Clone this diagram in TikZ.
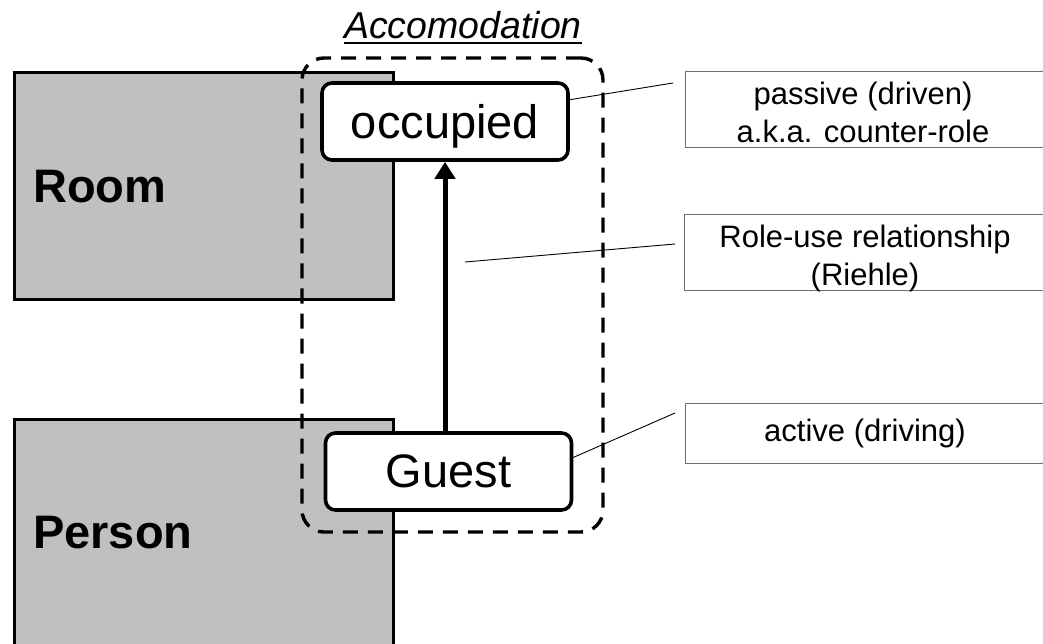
\documentclass[tikz,border=0pt]{standalone}
\usepackage{fontspec}
\setmainfont{Liberation Sans}
\usetikzlibrary{arrows.meta}
\definecolor{classgray}{HTML}{C0C0C0}
\definecolor{notegray}{HTML}{6E6E6E}
% underline with a heavier rule than \underline gives
\newcommand\heavyul[1]{\setbox0\hbox{#1}\rlap{\rule[-6pt]{\wd0}{2.2pt}}\box0}

\begin{document}
\begin{tikzpicture}[x=1pt,y=-1pt,
  classbox/.style={draw=black, line width=3pt, fill=classgray, inner sep=0pt},
  classlabel/.style={font=\fontsize{47}{56}\selectfont\bfseries, anchor=base west, inner sep=0pt},
  rolebox/.style={draw=black, line width=3.6pt, fill=white, rounded corners=10pt,
    minimum width=246pt, minimum height=77pt, inner sep=0pt,
    font=\fontsize{47}{56}\selectfont, text depth=0pt},
  contextbox/.style={draw=black, line width=3.4pt, dash pattern=on 15pt off 10pt,
    rounded corners=22pt, inner sep=0pt},
  notebox/.style={draw=notegray, line width=1.1pt, fill=white, inner sep=0pt,
    anchor=north west, minimum width=400pt},
  notetext/.style={font=\fontsize{31}{38}\selectfont, align=center, inner sep=0pt},
  leader/.style={draw=black, line width=0.9pt},
  uses/.style={draw=black, line width=5pt, -{Triangle[length=17pt,width=20pt]}}
]
\useasboundingbox (0,0) rectangle (1043,643);

% classes
\node[classbox, minimum width=379pt, minimum height=227pt, anchor=north west] (room) at (13,71) {};
\node[classbox, minimum width=379pt, minimum height=260pt, anchor=north west] (person) at (13,418) {};
\node[classlabel] (roomlabel) at (33,202) {Room};
\node[classlabel] (personlabel) at (33,548) {Person};

% relationship context
\node[contextbox, minimum width=301pt, minimum height=474pt] (acc) at (452.5,295) {};
\node[font=\fontsize{37.5}{44}\selectfont\itshape, anchor=base, inner sep=0pt] (title) at (463,38) {\heavyul{Accomodation}};

% notes
\node[notebox, minimum height=76pt] (n1) at (685,71) {};
\node[notetext] (n1text) at (863,112) {passive (driven)\\a.k.a. counter-role};
\node[notebox, minimum height=76pt] (n2) at (684,214) {};
\node[notetext] (n2text) at (865,258) {Role-use relationship\\(Riehle)};
\node[notebox, minimum height=60pt] (n3) at (685,403) {};
\node[notetext] (n3text) at (865,433) {active (driving)};

% roles
\node[rolebox] (occ) at (445,121.5) {occupied};
\node[rolebox] (guest) at (448.5,471.5) {Guest};

% leader lines
\coordinate (l1a) at (568,100);
\coordinate (l1b) at (673,83);
\coordinate (l2a) at (465,262);
\coordinate (l2b) at (675,244);
\coordinate (l3a) at (572,458);
\coordinate (l3b) at (675,413);
\draw[leader] (l1a) -- (l1b);
\draw[leader] (l2a) -- (l2b);
\draw[leader] (l3a) -- (l3b);

% role-use relationship
\draw[uses] (occ.south |- guest.north) -- (occ.south);
\end{tikzpicture}
\end{document}
